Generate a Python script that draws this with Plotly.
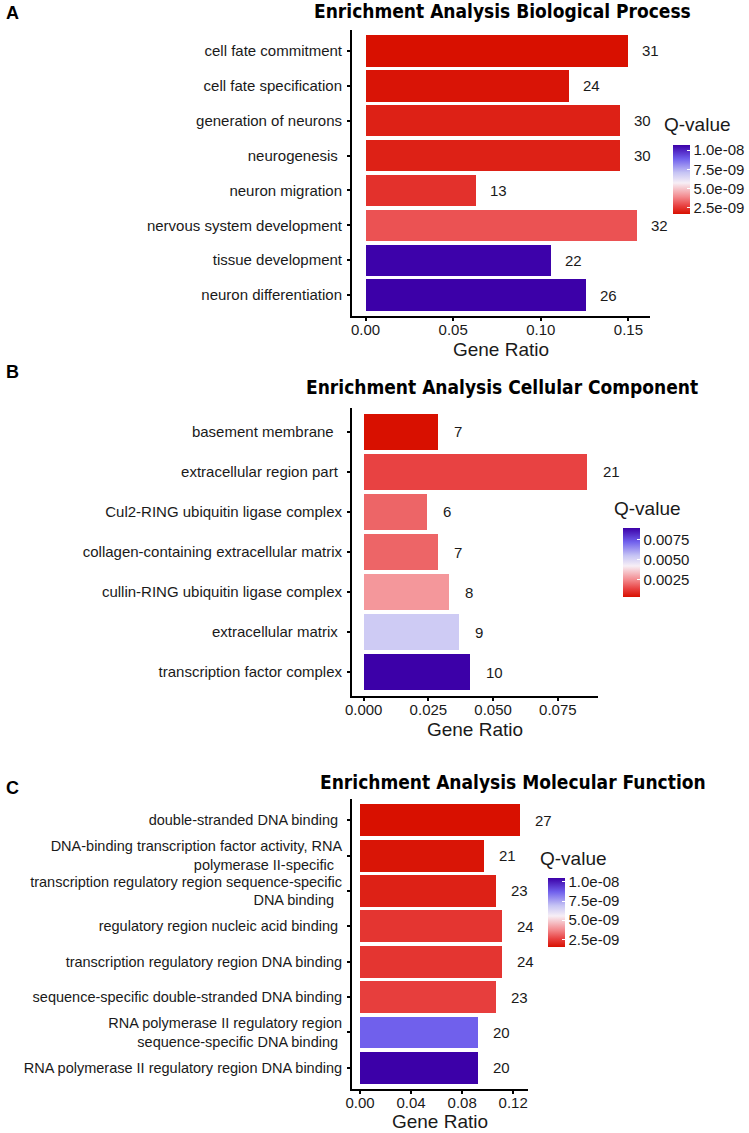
import plotly.graph_objects as go

W, H = 749, 1133

# ---------------- data ----------------
bp_terms = ["cell fate commitment", "cell fate specification", "generation of neurons",
            "neurogenesis\u00a0", "neuron migration", "nervous system development",
            "tissue development", "neuron differentiation"]
bp_ratio = [0.150, 0.116, 0.145, 0.145, 0.063, 0.155, 0.106, 0.126]
bp_count = [31, 24, 30, 30, 13, 32, 22, 26]
bp_q = [1.70e-9, 1.79e-9, 2.06e-9, 2.06e-9, 2.42e-9, 3.04e-9, 1.062e-8, 1.066e-8]

cc_terms = ["basement membrane\u00a0\u00a0", "extracellular region part\u00a0", "Cul2-RING ubiquitin ligase complex",
            "collagen-containing extracellular matrix", "cullin-RING ubiquitin ligase complex",
            "extracellular matrix\u00a0", "transcription factor complex"]
cc_ratio = [0.0287, 0.0861, 0.0246, 0.0287, 0.0328, 0.0369, 0.0410]
cc_count = [7, 21, 6, 7, 8, 9, 10]
cc_q = [0.0003, 0.00134, 0.0019, 0.0019, 0.0027, 0.0053, 0.0090]

mf_terms = ["double-stranded DNA binding\u00a0",
            "DNA-binding transcription factor activity, RNA<br>polymerase II-specific\u00a0\u00a0",
            "transcription regulatory region sequence-specific<br>DNA binding\u00a0\u00a0",
            "regulatory region nucleic acid binding\u00a0",
            "transcription regulatory region DNA binding",
            "sequence-specific double-stranded DNA binding",
            "RNA polymerase II regulatory region<br>sequence-specific DNA binding\u00a0",
            "RNA polymerase II regulatory region DNA binding"]
mf_ratio = [0.1253, 0.0974, 0.1067, 0.1114, 0.1114, 0.1067, 0.0928, 0.0928]
mf_count = [27, 21, 23, 24, 24, 23, 20, 20]
mf_q = [1.5e-9, 1.6e-9, 1.86e-9, 2.3e-9, 2.3e-9, 2.5e-9, 8.7e-9, 1.05e-8]

titles = ["Enrichment Analysis Biological Process",
          "Enrichment Analysis Cellular Component",
          "Enrichment Analysis Molecular Function"]
letters = ["A", "B", "C"]

bp_ticks = [0.0, 0.05, 0.10, 0.15]
cc_ticks = [0.0, 0.025, 0.05, 0.075]
mf_ticks = [0.0, 0.04, 0.08, 0.12]
q_ticks_a = [2.5e-9, 5.0e-9, 7.5e-9, 1.0e-8]
q_text_a = ["2.5e-09", "5.0e-09", "7.5e-09", "1.0e-08"]
q_ticks_b = [0.0025, 0.0050, 0.0075]
q_text_b = ["0.0025", "0.0050", "0.0075"]

colorscale = [[0, "#D81000"], [0.12, "#E84242"], [0.25, "#F38A8E"], [0.45, "#F7EFF6"],
              [0.6, "#C6C4F4"], [0.8, "#7060EC"], [1, "#3C00A8"]]

# ---------------- layout helpers (pixel positions) ----------------
def fx(x):
    return x / W

def fy(y):
    return 1 - y / H

panels = [
    dict(terms=bp_terms, ratio=bp_ratio, count=bp_count, q=bp_q, ticks=bp_ticks, fmt=".2f",
         xr=[-0.0077, 0.1623], px=(352, 650), py=(30, 316), cmin=1.70e-9, cmax=1.066e-8,
         qt=q_ticks_a, qtext=q_text_a, cb=(673, 145), qlab=(662, 124), font=15,
         title=(503, 11), letter=(12, 13), xshift=12, standoff=6),
    dict(terms=cc_terms, ratio=cc_ratio, count=cc_count, q=cc_q, ticks=cc_ticks, fmt=".3f",
         xr=[-0.0045, 0.0905], px=(352, 598), py=(408, 696), cmin=0.0003, cmax=0.0090,
         qt=q_ticks_b, qtext=q_text_b, cb=(623, 528), qlab=(612, 508), font=15,
         title=(502, 387), letter=(12, 372), xshift=14, standoff=6),
    dict(terms=mf_terms, ratio=mf_ratio, count=mf_count, q=mf_q, ticks=mf_ticks, fmt=".2f",
         xr=[-0.0063, 0.1316], px=(352, 528), py=(799, 1089), cmin=1.5e-9, cmax=1.05e-8,
         qt=q_ticks_a, qtext=q_text_a, cb=(548, 878), qlab=(538, 858), font=14.5,
         title=(513, 782), letter=(12, 788), xshift=13, standoff=5),
]

fig = go.Figure()
annotations = []
layout = {}
TXT = "#1a1a1a"
FONT = "Liberation Sans, Arial, sans-serif"

for i, p in enumerate(panels):
    n = i + 1
    xa = "x" if n == 1 else f"x{n}"
    ya = "y" if n == 1 else f"y{n}"
    xkey = "xaxis" if n == 1 else f"xaxis{n}"
    ykey = "yaxis" if n == 1 else f"yaxis{n}"
    nb = len(p["terms"])
    fig.add_trace(go.Bar(
        x=p["ratio"], y=p["terms"], orientation="h", xaxis=xa, yaxis=ya, width=0.9,
        marker=dict(color=p["q"], colorscale=colorscale, cmin=p["cmin"], cmax=p["cmax"],
                    line=dict(width=0),
                    colorbar=dict(x=fx(p["cb"][0]), xanchor="left", y=fy(p["cb"][1]), yanchor="top",
                                  len=69, lenmode="pixels", thickness=17, thicknessmode="pixels",
                                  xpad=0, ypad=0, outlinewidth=0,
                                  tickvals=p["qt"], ticktext=p["qtext"],
                                  ticks="inside", tickcolor="white", ticklen=3,
                                  tickfont=dict(size=15, color=TXT, family=FONT))),
        showlegend=False, hoverinfo="skip"))
    layout[xkey] = dict(domain=[fx(p["px"][0]), fx(p["px"][1])], anchor=ya, range=p["xr"],
                        tickvals=p["ticks"], tickformat=p["fmt"], showline=True, linecolor="black",
                        linewidth=2, ticks="outside", ticklen=3, tickwidth=1.5, tickcolor="black",
                        showgrid=False, zeroline=False, automargin=False, ticklabelstandoff=-4,
                        tickfont=dict(size=15, color=TXT, family=FONT),
                        title=dict(text="Gene Ratio", font=dict(size=19, color=TXT, family=FONT),
                                   standoff=p["standoff"]))
    layout[ykey] = dict(domain=[fy(p["py"][1]), fy(p["py"][0])], anchor=xa, type="category",
                        categoryorder="array", categoryarray=p["terms"], range=[nb - 1 + 0.6, -0.6],
                        showline=True, linecolor="black", linewidth=2, ticks="outside", ticklen=3,
                        tickwidth=1.5, tickcolor="black", showgrid=False, zeroline=False,
                        ticklabelstandoff=2, automargin=False,
                        tickfont=dict(size=p["font"], color=TXT, family=FONT))
    for r, c, t in zip(p["ratio"], p["count"], p["terms"]):
        annotations.append(dict(x=r, y=t, xref=xa, yref=ya, text=str(c), showarrow=False,
                                xanchor="left", xshift=p["xshift"],
                                font=dict(size=15, color=TXT, family=FONT)))
    annotations.append(dict(x=fx(p["title"][0]), y=fy(p["title"][1]), xref="paper", yref="paper",
                            text="<b>" + titles[i] + "</b>", showarrow=False, xanchor="center",
                            yanchor="middle",
                            font=dict(size=19, color="black",
                                      family="Liberation Sans Narrow, Arial Narrow, DejaVu Sans Condensed, Liberation Sans")))
    annotations.append(dict(x=fx(p["letter"][0]), y=fy(p["letter"][1]), xref="paper", yref="paper",
                            text="<b>" + letters[i] + "</b>", showarrow=False, xanchor="center",
                            yanchor="middle", font=dict(size=18, color="black", family=FONT)))
    annotations.append(dict(x=fx(p["qlab"][0]), y=fy(p["qlab"][1]), xref="paper", yref="paper",
                            text="Q-value", showarrow=False, xanchor="left", yanchor="middle",
                            font=dict(size=19, color=TXT, family=FONT)))

fig.update_layout(width=W, height=H, margin=dict(l=0, r=0, t=0, b=0, autoexpand=False),
                  paper_bgcolor="white", plot_bgcolor="white", bargap=0,
                  annotations=annotations, **layout)

fig.write_html("out.html", config={"displayModeBar": False},
               post_script="document.body.style.margin='0';document.body.style.overflow='hidden';")
